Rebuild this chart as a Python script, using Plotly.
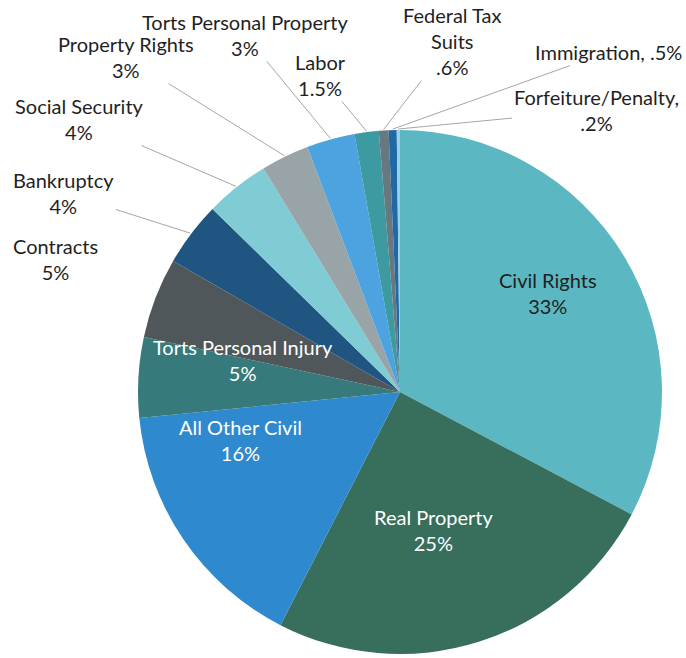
import math
import plotly.graph_objects as go

categories = ["Civil Rights", "Real Property", "All Other Civil", "Torts Personal Injury",
              "Contracts", "Bankruptcy", "Social Security", "Property Rights",
              "Torts Personal Property", "Labor", "Federal Tax Suits", "Immigration",
              "Forfeiture/Penalty"]
values = [33, 25, 16, 5, 5, 4, 4, 3, 3, 1.5, 0.6, 0.5, 0.2]
value_labels = ["33%", "25%", "16%", "5%", "5%", "4%", "4%", "3%", "3%", "1.5%", ".6%", ".5%", ".2%"]
colors = ["#5BB8C2", "#386E5C", "#2E89CF", "#377A7C", "#50575A", "#1F5580", "#80CCD4",
          "#98A4A8", "#4DA3E0", "#3C9AA0", "#687880", "#1F6AA5", "#9AD0E8"]

W, H = 686, 658
CX, CY, R = 400, 392, 262

fig = go.Figure(go.Pie(
    labels=categories, values=values, sort=False, direction="clockwise", rotation=0,
    marker=dict(colors=colors, line=dict(width=0)),
    textinfo="none", hoverinfo="label+percent", showlegend=False,
    domain=dict(x=[(CX - R) / W, (CX + R) / W], y=[(H - CY - R) / H, (H - CY + R) / H]),
))

total = sum(values)
mid_angles = []
cum = 0
for v in values:
    mid_angles.append((cum + v / 2) / total * 2 * math.pi)
    cum += v

FAM = "Lato, Open Sans, sans-serif"
font_dark = dict(family=FAM, size=20, color="#1F1F1F")
font_white = dict(family=FAM, size=20, color="#FFFFFF")

# inside labels (pixel positions of label centres)
inside = {0: (548, 293, font_dark), 1: (433, 530, font_white),
          2: (240, 440, font_white), 3: (243, 360, font_white)}
for i, (px, py, f) in inside.items():
    fig.add_annotation(x=px / W, y=1 - py / H, xref="paper", yref="paper", showarrow=False,
                       xanchor="center", yanchor="middle",
                       text=f"{categories[i]}<br>{value_labels[i]}", font=f, align="center")

# outside labels with leader lines
outside = {
    4: ("Contracts<br>5%", 56, 259, False),
    5: ("Bankruptcy<br>4%", 64, 193, True),
    6: ("Social Security<br>4%", 80, 119, True),
    7: ("Property Rights<br>3%", 126, 57, True),
    8: ("Torts Personal Property<br>3%", 245, 35, True),
    9: ("Labor<br>1.5%", 320, 75, True),
    10: ("Federal Tax<br>Suits<br>.6%", 452, 41, True),
    11: ("Immigration, .5%", 608, 52, True),
    12: ("Forfeiture/Penalty,<br>.2%", 596, 110, True),
}
for i, (txt, px, py, arrow) in outside.items():
    a = mid_angles[i]
    tx = CX + (R + 1) * math.sin(a)
    ty = CY - (R + 1) * math.cos(a)
    if arrow:
        fig.add_annotation(x=tx / W, y=1 - ty / H, xref="paper", yref="paper",
                           ax=px - tx, ay=py - ty, showarrow=True, arrowhead=0,
                           arrowwidth=1, arrowcolor="#A6A6A6", text=txt, font=font_dark,
                           align="center", standoff=0, startstandoff=0)
    else:
        fig.add_annotation(x=px / W, y=1 - py / H, xref="paper", yref="paper",
                           showarrow=False, xanchor="center", yanchor="middle",
                           text=txt, font=font_dark, align="center")

fig.update_layout(width=W, height=H, margin=dict(l=0, r=0, t=0, b=0),
                  paper_bgcolor="white", plot_bgcolor="white")

fig.write_html("out.html", config={"displayModeBar": False},
               post_script="document.body.style.margin='0';")
